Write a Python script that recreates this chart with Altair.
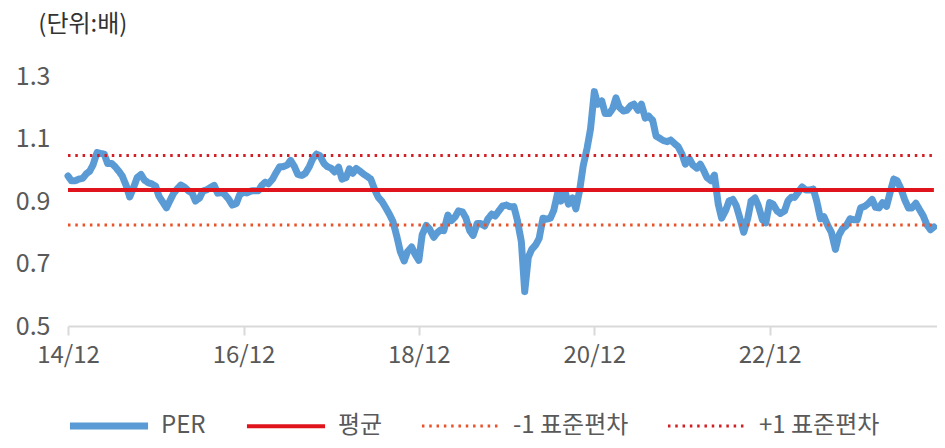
import altair as alt
import pandas as pd

# PER, semi-monthly readings from Dec 2014
per = [
    0.980, 0.965, 0.965, 0.970, 0.973, 0.987, 0.995, 1.015, 1.055, 1.052,
    1.050, 1.020, 1.020, 1.010, 0.995, 0.980, 0.948, 0.913, 0.945, 0.975,
    0.985, 0.967, 0.958, 0.955, 0.947, 0.915, 0.895, 0.878, 0.905, 0.926,
    0.940, 0.951, 0.943, 0.933, 0.925, 0.900, 0.910, 0.932, 0.936, 0.943,
    0.950, 0.925, 0.928, 0.920, 0.905, 0.887, 0.892, 0.920, 0.928, 0.926,
    0.932, 0.933, 0.933, 0.950, 0.960, 0.955, 0.970, 0.990, 1.010, 1.010,
    1.015, 1.030, 1.010, 0.985, 0.982, 0.988, 1.010, 1.035, 1.050, 1.045,
    1.020, 1.010, 1.005, 0.993, 1.008, 0.970, 0.975, 1.003, 0.989, 1.004,
    0.995, 0.986, 0.978, 0.970, 0.935, 0.912, 0.898, 0.880, 0.857, 0.835,
    0.785, 0.738, 0.708, 0.738, 0.753, 0.730, 0.710, 0.792, 0.822, 0.810,
    0.784, 0.798, 0.807, 0.805, 0.855, 0.837, 0.849, 0.868, 0.865, 0.846,
    0.805, 0.790, 0.828, 0.828, 0.820, 0.843, 0.858, 0.852, 0.870, 0.884,
    0.887, 0.882, 0.882, 0.840, 0.770, 0.610, 0.720, 0.745, 0.760, 0.780,
    0.845, 0.842, 0.845, 0.870, 0.925, 0.900, 0.930, 0.890, 0.910, 0.875,
    0.935, 1.010, 1.070, 1.130, 1.250, 1.210, 1.220, 1.180, 1.180, 1.195,
    1.230, 1.200, 1.188, 1.190, 1.205, 1.210, 1.190, 1.210, 1.165, 1.172,
    1.158, 1.108, 1.100, 1.093, 1.090, 1.095, 1.083, 1.074, 1.050, 1.018,
    1.035, 1.015, 1.005, 1.018, 0.998, 0.975, 0.965, 0.983, 0.890, 0.845,
    0.870, 0.900, 0.905, 0.885, 0.840, 0.800, 0.845, 0.900, 0.910, 0.885,
    0.840, 0.830, 0.895, 0.890, 0.868, 0.860, 0.868, 0.900, 0.912, 0.912,
    0.930, 0.945, 0.935, 0.935, 0.938, 0.900, 0.843, 0.850, 0.820, 0.800,
    0.745, 0.790, 0.812, 0.820, 0.843, 0.840, 0.840, 0.878, 0.883, 0.891,
    0.905, 0.880, 0.878, 0.895, 0.883, 0.925, 0.970, 0.965, 0.937, 0.905,
    0.878, 0.878, 0.893, 0.874, 0.852, 0.825, 0.808, 0.817,
]
mean_val = 0.935
minus_sd = 0.823
plus_sd = 1.046

series_names = ["PER", "평균", "-1 표준편차", "+1 표준편차"]
series_colors = ["#5B9BD5", "#E0141C", "#E8532B", "#D21F26"]
series_dash = [[1, 0], [1, 0], [2.5, 4.8], [2.5, 4.8]]
series_width = [7, 4, 3, 3]
y_ticks = [0.5, 0.7, 0.9, 1.1, 1.3]
x_tick_years = [2014, 2016, 2018, 2020, 2022]

dates = pd.date_range("2014-12-01", periods=len(per), freq="SMS")
per_df = pd.DataFrame({"date": dates, "value": per, "series": "PER"})
ref_rows = []
for name, val in [("평균", mean_val), ("-1 표준편차", minus_sd), ("+1 표준편차", plus_sd)]:
    for d in (dates[0], dates[-1]):
        ref_rows.append({"date": d, "value": val, "series": name})
ref_df = pd.DataFrame(ref_rows)

FONT = "Noto Sans CJK KR"
LBL = "#595959"

x_enc = alt.X(
    "date:T",
    scale=alt.Scale(domain=[alt.DateTime(year=2014, month=12, date=1),
                            alt.DateTime(year=2024, month=10, date=28)]),
    axis=alt.Axis(
        values=[alt.DateTime(year=y, month=12, date=1) for y in x_tick_years],
        format="%y/%m", title=None, grid=False,
        domainColor="#D9D9D9", domainWidth=2, tickColor="#D9D9D9", tickWidth=2,
        tickSize=9, labelPadding=8, labelFontSize=24, labelColor=LBL,
        labelFont=FONT, labelFlush=False, labelOverlap=False,
    ),
)
y_enc = alt.Y(
    "value:Q",
    scale=alt.Scale(domain=[0.5, 1.3], nice=False, zero=False),
    axis=alt.Axis(
        values=y_ticks, format=".1f", title=None, grid=False, domain=False,
        ticks=False, labelPadding=18, labelFontSize=25, labelColor=LBL,
        labelFont=FONT, labelFlush=False,
    ),
)
color_enc = alt.Color(
    "series:N",
    scale=alt.Scale(domain=series_names, range=series_colors),
    legend=alt.Legend(
        title=None, orient="none", legendX=-2, legendY=307, direction="horizontal",
        columns=4, symbolType="stroke", symbolSize=6100, labelFontSize=24,
        labelColor=LBL, labelFont=FONT, columnPadding=32, labelOffset=9,
    ),
)
dash_enc = alt.StrokeDash("series:N", scale=alt.Scale(domain=series_names, range=series_dash))
width_enc = alt.StrokeWidth("series:N", scale=alt.Scale(type="ordinal", domain=series_names, range=series_width))

per_line = alt.Chart(per_df).mark_line(strokeJoin="round", strokeCap="round").encode(
    x=x_enc, y=y_enc, color=color_enc, strokeDash=dash_enc, strokeWidth=width_enc
)
ref_lines = alt.Chart(ref_df).mark_line().encode(
    x=x_enc, y=y_enc, color=color_enc, strokeDash=dash_enc, strokeWidth=width_enc
)

chart = alt.layer(per_line, ref_lines).properties(
    width=869, height=250,
    autosize=alt.AutoSizeParams(type="none"),
    padding={"left": 60, "top": 68, "right": 0, "bottom": 114},
    title=alt.TitleParams(
        "(단위:배)", anchor="start", dx=23, offset=3, fontSize=24,
        fontWeight="normal", font=FONT, color="#333333", baseline="bottom",
    ),
).configure_view(stroke=None)

chart.save("out.html", embed_options={"renderer": "svg", "actions": False})
